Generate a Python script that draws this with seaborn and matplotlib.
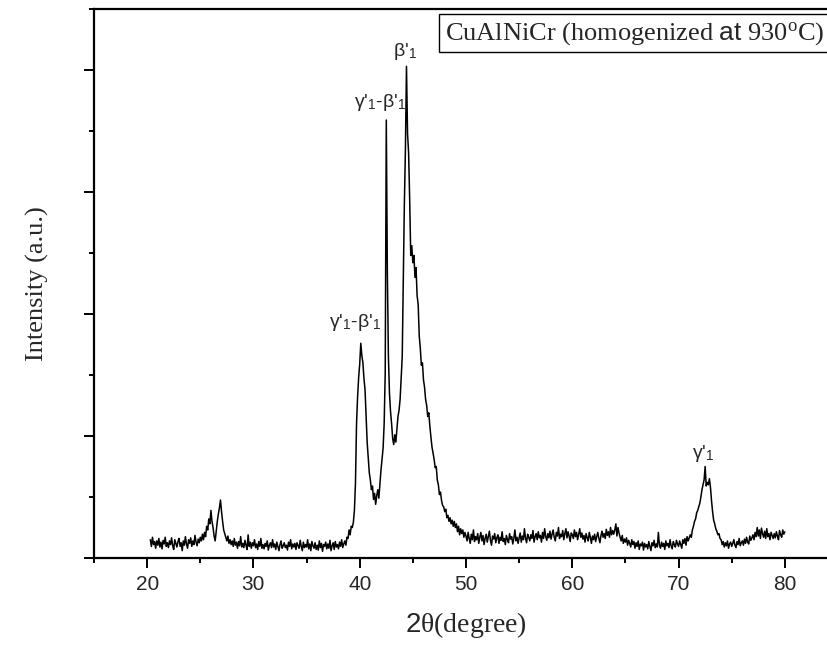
import numpy as np
import pandas as pd
import matplotlib
matplotlib.use("Agg")
import matplotlib.pyplot as plt
from matplotlib.ticker import MultipleLocator, NullFormatter
import seaborn as sns

# 2-theta grid (instrument step 0.1 deg), from 20.3 to 80.0
two_theta = np.round(np.arange(203, 801) / 10.0, 1)

# Intensity (a.u.), one row per degree
intensity = [
    150, 95, 170, 110, 135, 80, 140,                                # 20.3-20.9
    105, 160, 90, 130, 75, 145, 115, 170, 95, 125,                  # 21
    85, 140, 110, 165, 100, 70, 150, 120, 90, 135,                  # 22
    160, 95, 125, 60, 140, 105, 175, 115, 80, 150,                  # 23
    120, 165, 95, 140, 110, 185, 130, 100, 155, 125,                # 24
    170, 140, 195, 150, 210, 175, 260, 230, 320, 280,               # 25
    390, 300, 250, 180, 140, 220, 300, 360, 410, 475,               # 26
    380, 300, 230, 200, 170, 140, 180, 120, 150, 110,               # 27
    140, 95, 160, 105, 130, 80, 135, 100, 175, 90,                  # 28
    120, 85, 145, 105, 70, 190, 95, 130, 80, 125,                   # 29
    100, 150, 85, 115, 70, 135, 95, 160, 80, 110,                   # 30
    75, 120, 95, 140, 65, 105, 125, 85, 150, 90,                    # 31
    115, 70, 130, 95, 60, 110, 140, 80, 100, 125,                   # 32
    85, 105, 65, 130, 95, 150, 75, 115, 90, 120,                    # 33
    70, 125, 100, 80, 145, 95, 60, 130, 85, 110,                    # 34
    90, 150, 75, 115, 60, 135, 100, 80, 125, 70,                    # 35
    105, 65, 140, 85, 120, 55, 110, 95, 130, 75,                    # 36
    115, 80, 145, 60, 100, 125, 70, 135, 90, 110,                   # 37
    75, 130, 95, 150, 85, 115, 140, 105, 170, 160,                  # 38
    230, 190, 260, 250, 290, 390, 610, 1100, 1320, 1480,            # 39
    1590, 1760, 1660, 1600, 1470, 1380, 1160, 950, 830, 700,        # 40
    640, 560, 590, 480, 530, 440, 510, 560, 490, 610,               # 41
    720, 810, 900, 1100, 1520, 3590, 2350, 1650, 1350, 1200,        # 42
    1100, 980, 930, 1010, 950, 1060, 1160, 1210, 1300, 1470,        # 43
    1650, 2250, 2900, 3350, 4030, 3480, 3320, 2940, 2480, 2560,     # 44
    2420, 2480, 2300, 2380, 2150, 2080, 1820, 1720, 1580, 1600,     # 45
    1460, 1400, 1300, 1250, 1160, 1190, 1080, 990, 910, 860,        # 46
    810, 740, 750, 640, 600, 520, 540, 470, 430, 420,               # 47
    380, 400, 330, 350, 300, 330, 280, 310, 260, 300,               # 48
    250, 280, 215, 260, 190, 240, 200, 230, 170, 210,               # 49
    180, 140, 210, 160, 120, 195, 150, 230, 135, 175,               # 50
    150, 200, 120, 170, 210, 140, 185, 110, 160, 195,               # 51
    130, 175, 220, 145, 105, 180, 155, 200, 125, 165,               # 52
    190, 120, 170, 145, 215, 135, 160, 110, 185, 150,               # 53
    125, 200, 155, 175, 115, 160, 230, 140, 170, 120,               # 54
    165, 205, 130, 180, 150, 240, 160, 125, 195, 170,               # 55
    140, 190, 160, 225, 130, 175, 200, 150, 215, 165,               # 56
    185, 130, 210, 160, 240, 175, 145, 200, 165, 220,               # 57
    155, 195, 230, 170, 140, 210, 180, 250, 160, 195,               # 58
    175, 225, 150, 200, 240, 165, 215, 180, 135, 205,               # 59
    190, 160, 230, 175, 210, 150, 195, 240, 170, 205,               # 60
    155, 185, 130, 200, 165, 140, 210, 170, 120, 180,               # 61
    150, 195, 135, 175, 210, 160, 125, 185, 220, 170,               # 62
    200, 160, 235, 185, 215, 170, 250, 190, 225, 195,               # 63
    230, 280, 180, 250, 205, 170, 140, 185, 120, 155,               # 64
    130, 165, 105, 145, 120, 90, 150, 110, 135, 80,                 # 65
    125, 95, 140, 70, 115, 100, 130, 65, 120, 90,                   # 66
    110, 75, 135, 95, 60, 125, 100, 145, 85, 115,                   # 67
    90, 210, 105, 80, 130, 95, 120, 70, 140, 100,                   # 68
    120, 85, 150, 100, 75, 135, 110, 90, 145, 115,                  # 69
    95, 140, 110, 80, 150, 120, 160, 105, 175, 140,                 # 70
    165, 190, 170, 230, 260, 300, 320, 370, 390, 420,               # 71
    450, 500, 560, 600, 640, 750, 590, 620, 600, 650,               # 72
    580, 470, 380, 310, 280, 240, 220, 190, 200, 160,               # 73
    150, 110, 135, 90, 125, 100, 140, 80, 115, 130,                 # 74
    95, 120, 150, 105, 85, 135, 110, 160, 100, 125,                 # 75
    140, 105, 155, 120, 170, 130, 115, 180, 145, 165,               # 76
    190, 150, 210, 175, 250, 180, 230, 160, 245, 200,               # 77
    170, 220, 160, 240, 175, 200, 150, 210, 185, 160,               # 78
    200, 165, 215, 180, 150, 225, 190, 170, 230, 195,               # 79
    215,                                                            # 80.0
]

x_ticks = [20, 30, 40, 50, 60, 70, 80]
peak_labels = ["γ'$_{\\mathsf{1}}$-β'$_{\\mathsf{1}}$",
               "γ'$_{\\mathsf{1}}$-β'$_{\\mathsf{1}}$",
               "β'$_{\\mathsf{1}}$",
               "γ'$_{\\mathsf{1}}$"]
peak_label_x = [41.9, 39.6, 44.3, 72.3]
peak_label_y = [3730, 1930, 4150, 860]
sample_label = "CuAlNiCr (homogenized $\\mathsf{at}$ 930$^{\\mathrm{o}}$C)"

df = pd.DataFrame({"two_theta": two_theta, "intensity": intensity})

sns.set_style("ticks")
plt.rcParams["font.family"] = ["Liberation Sans", "DejaVu Sans"]
plt.rcParams["mathtext.fontset"] = "custom"
plt.rcParams["mathtext.rm"] = "Liberation Serif"
plt.rcParams["mathtext.it"] = "Liberation Serif:italic"
plt.rcParams["mathtext.sf"] = "Liberation Sans"

fig = plt.figure(figsize=(8.28, 6.56), dpi=100)
ax = fig.add_axes([94 / 828, 98 / 656, (838 - 94) / 828, (558 - 9) / 656])

sns.lineplot(data=df, x="two_theta", y="intensity", ax=ax,
             color="black", linewidth=1.1, estimator=None, sort=False)

ax.set_xlim(15, 85)
ax.set_ylim(0, 4500)
ax.xaxis.set_major_locator(MultipleLocator(10))
ax.xaxis.set_minor_locator(MultipleLocator(5))
ax.yaxis.set_major_locator(MultipleLocator(1000))
ax.yaxis.set_minor_locator(MultipleLocator(500))
ax.yaxis.set_major_formatter(NullFormatter())
ax.set_xticks(x_ticks)

for s in ["left", "bottom", "top"]:
    ax.spines[s].set_linewidth(1.6)
    ax.spines[s].set_color("black")
ax.spines["right"].set_visible(False)

ax.tick_params(axis="both", which="major", direction="out", length=7,
               width=1.4, color="black")
ax.tick_params(axis="both", which="minor", direction="out", length=3.5,
               width=1.4, color="black")
ax.tick_params(axis="x", which="major", labelsize=15, pad=5)

ax.set_xlabel("$\\mathsf{2}$θ(degree)", family=["Liberation Serif", "DejaVu Serif"],
              fontsize=20, labelpad=12)
ax.set_ylabel("Intensity (a.u.)", family=["Liberation Serif", "DejaVu Serif"],
              fontsize=19, labelpad=22)

for lab, lx, ly in zip(peak_labels, peak_label_x, peak_label_y):
    ax.text(lx, ly, lab, fontsize=14, ha="center", va="center")

ax.text(0.4712, 0.956, sample_label, transform=ax.transAxes,
        family=["Liberation Serif", "DejaVu Serif"], fontsize=19,
        ha="left", va="center",
        bbox=dict(boxstyle="square,pad=0.22", fc="white", ec="black", lw=1))

fig.savefig("out.png", dpi=100)
